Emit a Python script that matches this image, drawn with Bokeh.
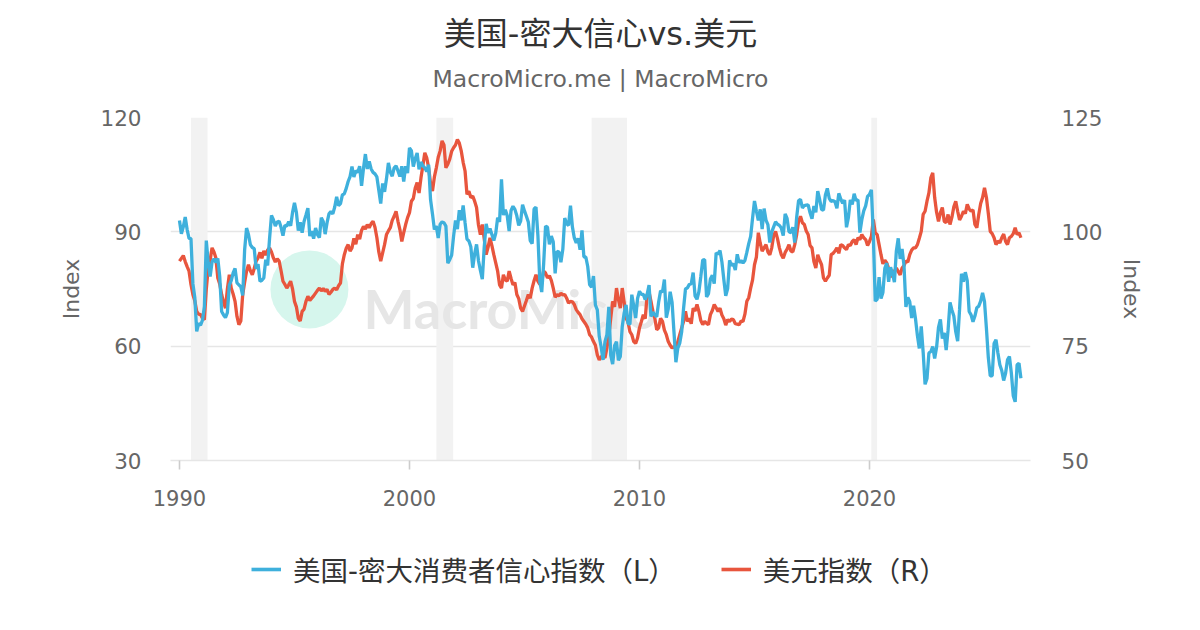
import numpy as np
from bokeh.plotting import figure
from bokeh.layouts import column
from bokeh.models import (Range1d, LinearAxis, FixedTicker, BoxAnnotation,
                          Legend, LegendItem)
from bokeh.core.properties import value
from bokeh.embed import file_html
from bokeh.resources import INLINE

# ---------------- data (monthly, starting Jan 1990) ----------------
START_YEAR = 1990

# University of Michigan consumer sentiment (left axis)
sentiment = [
    93.0, 89.5, 91.3, 93.9, 90.6, 88.3, 88.2, 76.4, 72.8, 63.9, 66.0, 65.5,
    66.8, 70.4, 87.7, 81.8, 78.3, 82.1, 82.9, 82.0, 83.0, 78.3, 69.1, 68.2,
    67.5, 68.8, 76.0, 77.2, 79.2, 80.4, 76.6, 76.1, 75.6, 73.3, 85.3, 91.0,
    89.3, 86.6, 85.9, 85.6, 80.3, 81.5, 77.0, 77.3, 77.9, 82.7, 81.2, 88.2,
    94.3, 93.2, 91.5, 92.6, 92.8, 91.2, 89.0, 91.7, 91.5, 92.7, 91.6, 95.1,
    97.6, 95.1, 90.3, 92.5, 89.8, 92.7, 94.4, 96.2, 88.9, 90.2, 88.2, 91.0,
    89.3, 88.5, 93.7, 92.7, 89.4, 92.4, 94.7, 95.3, 94.7, 96.5, 99.2, 96.9,
    97.4, 99.7, 100.0, 101.4, 103.2, 104.5, 107.1, 104.4, 106.0, 105.6, 107.2, 102.1,
    106.6, 110.4, 106.5, 108.5, 106.5, 105.6, 105.2, 104.4, 100.9, 97.4, 102.7, 100.5,
    103.9, 108.1, 105.7, 104.6, 106.8, 107.3, 106.0, 104.5, 107.2, 103.2, 107.2, 105.4,
    112.0, 111.3, 107.1, 109.2, 110.7, 106.4, 108.3, 107.3, 106.8, 105.8, 107.6, 98.4,
    94.7, 90.6, 91.5, 88.4, 92.0, 92.6, 92.4, 91.5, 81.8, 82.7, 83.9, 88.8,
    93.0, 90.7, 95.7, 93.0, 96.9, 92.4, 88.1, 87.6, 86.1, 80.6, 84.2, 86.7,
    82.4, 79.9, 77.6, 86.0, 92.1, 89.7, 90.9, 89.3, 87.7, 89.6, 93.7, 92.6,
    103.8, 94.4, 95.8, 94.2, 90.2, 95.6, 96.7, 95.9, 94.2, 91.7, 92.8, 97.1,
    95.5, 94.1, 92.6, 87.7, 86.9, 96.0, 96.5, 89.1, 76.9, 74.2, 81.6, 91.5,
    91.2, 86.7, 88.9, 87.4, 79.1, 84.9, 84.7, 82.0, 85.4, 93.6, 92.1, 91.7,
    96.9, 91.3, 88.4, 87.1, 88.3, 85.3, 90.4, 83.4, 83.4, 80.9, 76.1, 75.5,
    78.4, 70.8, 69.5, 62.6, 59.8, 56.4, 61.2, 63.0, 70.3, 57.6, 55.3, 60.1,
    61.2, 56.3, 57.3, 65.1, 68.7, 70.8, 66.0, 65.7, 73.5, 70.6, 67.4, 72.5,
    74.4, 73.6, 73.6, 72.2, 73.6, 76.0, 67.8, 68.9, 68.2, 67.7, 71.6, 74.5,
    74.2, 77.5, 67.5, 69.8, 74.3, 71.5, 63.7, 55.8, 59.5, 60.8, 63.7, 69.9,
    75.0, 75.3, 76.2, 76.4, 79.3, 73.2, 72.3, 74.3, 78.3, 82.6, 82.7, 72.9,
    73.8, 77.6, 78.6, 76.4, 84.5, 84.1, 85.1, 82.1, 77.5, 73.2, 75.1, 82.5,
    81.2, 81.6, 80.0, 84.1, 81.9, 82.5, 81.8, 82.5, 84.6, 86.9, 88.8, 93.6,
    98.1, 95.4, 93.0, 95.9, 90.7, 96.1, 93.1, 91.9, 87.2, 90.0, 91.3, 92.6,
    92.0, 91.7, 91.0, 89.0, 94.7, 93.5, 90.0, 89.8, 91.2, 87.2, 93.8, 98.2,
    98.5, 96.3, 96.9, 97.0, 97.1, 95.0, 93.4, 96.8, 95.1, 100.7, 98.5, 95.9,
    95.7, 99.7, 101.4, 98.8, 98.0, 98.2, 97.9, 96.2, 100.1, 98.6, 97.5, 98.3,
    91.2, 93.8, 98.4, 97.2, 100.0, 98.2, 98.4, 89.8, 93.2, 95.5, 96.8, 99.3,
    99.8, 101.0, 89.1, 71.8, 72.3, 78.1, 72.5, 74.1, 80.4, 81.8, 76.9, 80.7,
    79.0, 76.8, 84.9, 88.3, 82.9, 85.5, 81.2, 70.3, 72.8, 71.7, 67.4, 70.6,
    67.2, 62.8, 59.4, 65.2, 58.4, 50.0, 51.5, 58.2, 58.6, 59.9, 56.8, 59.7,
    64.9, 67.0, 62.0, 63.5, 59.0, 64.2, 71.5, 69.5, 67.9, 63.8, 61.3, 69.7,
    79.0, 76.9, 79.4, 77.2, 69.1, 68.2, 66.4, 67.9, 70.1, 70.5, 71.8, 74.0,
    71.7, 64.7, 57.0, 52.2, 52.2, 60.7, 61.7, 58.2, 55.1, 53.6, 51.0, 52.9,
    56.4, 57.3, 53.0, 47.0, 45.4, 55.1, 55.5, 51.6,
]

# US dollar index (right axis)
dollar = [
    93.6, 94.2, 94.8, 93.5, 92.4, 91.4, 88.5, 86.3, 84.9, 82.6, 82.0, 81.9,
    81.1, 80.8, 87.5, 92.1, 93.8, 96.5, 95.6, 94.3, 89.9, 88.6, 86.3, 84.6,
    83.3, 87.5, 90.6, 87.7, 86.4, 84.8, 81.5, 79.7, 80.5, 86.3, 89.0, 91.4,
    92.8, 91.5, 90.6, 92.0, 93.6, 94.3, 95.5, 94.2, 95.8, 94.9, 96.0, 96.5,
    95.6, 94.3, 93.4, 94.1, 93.6, 91.5, 89.2, 88.5, 87.7, 88.4, 89.2, 87.5,
    84.8, 83.6, 81.1, 80.5, 82.6, 83.1, 84.8, 85.9, 85.0, 85.5, 86.0, 86.6,
    87.2, 87.7, 87.1, 87.6, 87.0, 87.4, 86.3, 86.8, 87.4, 87.7, 87.3, 88.2,
    88.8, 93.0, 95.0, 96.4, 97.2, 95.8, 96.5, 98.6, 97.3, 99.4, 98.4, 100.3,
    101.2, 100.6, 101.6, 100.9, 101.8, 102.3, 101.0, 98.7, 95.6, 93.6, 95.4, 97.2,
    99.4, 100.2, 100.9, 102.5, 103.4, 104.5, 102.3, 100.5, 97.9, 99.8, 101.6, 103.1,
    104.2, 106.7, 107.3, 109.6, 110.8, 108.5, 111.8, 114.5, 117.3, 116.2, 114.0, 110.5,
    108.9, 112.0, 114.0, 116.3, 117.7, 119.9, 119.0, 114.0, 114.8, 115.9, 117.6, 118.4,
    119.0, 120.2, 119.4, 117.7, 115.2, 113.3, 108.2, 108.9, 107.5, 107.8, 106.7, 105.3,
    101.5, 99.4, 101.6, 98.5, 95.0, 96.6, 98.7, 97.0, 95.0, 93.2, 91.4, 88.4,
    87.7, 90.6, 89.5, 89.2, 91.4, 89.8, 88.4, 88.9, 86.3, 85.4, 83.3, 82.6,
    83.8, 85.0, 86.3, 85.5, 87.7, 89.3, 90.6, 89.2, 88.5, 89.2, 91.4, 91.0,
    89.9, 90.4, 89.4, 87.7, 85.7, 86.3, 86.0, 86.6, 86.2, 86.3, 85.5, 84.4,
    84.8, 84.7, 84.1, 83.0, 82.4, 81.9, 81.0, 80.4, 79.8, 79.0, 77.5, 77.0,
    76.0, 75.2, 73.1, 72.0, 72.6, 73.1, 72.4, 74.6, 77.2, 81.1, 84.8, 83.6,
    87.7, 85.2, 83.3, 87.7, 84.6, 81.1, 80.3, 78.2, 77.5, 76.0, 75.6, 76.8,
    79.0, 80.4, 81.9, 81.0, 86.3, 86.8, 84.8, 82.5, 81.1, 78.6, 79.0, 81.1,
    80.4, 78.5, 77.5, 76.0, 75.2, 74.6, 74.9, 74.5, 76.0, 77.5, 79.0, 80.4,
    82.6, 80.4, 81.1, 79.9, 83.3, 82.7, 84.1, 82.6, 80.6, 79.7, 80.4, 80.0,
    79.7, 81.9, 82.8, 84.1, 83.4, 82.6, 83.3, 81.8, 81.0, 79.6, 80.8, 80.4,
    80.9, 80.8, 79.9, 79.8, 79.7, 80.5, 80.4, 82.0, 84.8, 85.6, 87.7, 89.5,
    92.8, 94.5, 99.8, 97.5, 95.8, 96.5, 97.2, 95.6, 95.0, 96.5, 99.2, 100.1,
    98.5, 96.5, 95.0, 94.2, 95.5, 96.2, 97.2, 95.8, 95.6, 97.2, 99.4, 102.3,
    103.4, 102.0, 101.6, 100.2, 99.4, 97.0, 96.5, 93.5, 92.1, 95.0, 93.8, 92.8,
    89.9, 89.2, 89.9, 90.5, 95.0, 95.3, 95.8, 96.5, 95.3, 97.2, 97.0, 96.5,
    96.1, 97.2, 97.0, 97.9, 98.3, 97.2, 98.7, 98.3, 99.4, 98.7, 98.3, 97.0,
    97.9, 99.0, 102.7, 99.8, 99.4, 97.2, 95.0, 93.0, 93.8, 93.2, 92.0, 90.3,
    90.3, 91.4, 92.1, 91.3, 90.6, 92.1, 92.6, 93.6, 93.4, 95.0, 96.0, 96.5,
    96.5, 97.2, 98.6, 100.1, 103.8, 104.5, 106.7, 108.5, 111.8, 112.9, 107.5, 104.3,
    102.3, 104.2, 105.3, 102.3, 102.0, 103.8, 101.6, 103.2, 105.5, 106.7, 104.5, 102.6,
    103.4, 104.5, 104.0, 106.0, 105.0, 104.5, 104.8, 101.6, 100.9, 103.8, 106.2, 107.5,
    109.6, 107.5, 104.0, 100.1, 99.6, 98.7, 97.2, 98.0, 97.6, 98.7, 99.5, 97.9,
    97.2, 98.7, 99.0, 99.6, 100.9, 99.4, 99.8, 98.7,
]

recession_start = [1990.50, 2001.17, 2007.92, 2020.08]
recession_end = [1991.22, 2001.90, 2009.46, 2020.33]

x_ticks = [1990, 2000, 2010, 2020]
left_ticks = [30, 60, 90, 120]
right_ticks = [50, 75, 100, 125]

series_names = ["美国-密大消费者信心指数（L）", "美元指数（R）"]
title_text = "美国-密大信心vs.美元"
subtitle_text = "MacroMicro.me | MacroMicro"
axis_title = "Index"

# ---------------- styling ----------------
BLUE = "#3EB0DC"
RED = "#E8553D"
FONT = "'DejaVu Sans', 'Noto Sans CJK SC', sans-serif"
GRID = "#e6e6e6"
TICK_COLOR = "#666666"

W = 1200
FRAME_W, FRAME_H = 860, 343
TOP_H, LEG_H = 100, 100


def blank_figure(height, xr, yr):
    f = figure(width=W, height=height, x_range=xr, y_range=yr,
               output_backend="svg", toolbar_location=None,
               x_axis_location=None, y_axis_location=None,
               min_border_left=170, min_border_right=170,
               min_border_top=0, min_border_bottom=0,
               outline_line_color=None,
               background_fill_color="white", border_fill_color="white")
    f.xgrid.visible = False
    f.ygrid.visible = False
    return f


x = START_YEAR + np.arange(len(sentiment)) / 12.0

# ---------------- header: title and subtitle ----------------
head = blank_figure(TOP_H, Range1d(0, FRAME_W), Range1d(TOP_H, 0))
head.text([FRAME_W / 2], [33], text=[title_text], text_font=value(FONT),
          text_font_size="32px", text_color="#333333",
          text_align="center", text_baseline="middle")
head.text([FRAME_W / 2], [78], text=[subtitle_text], text_font=value(FONT),
          text_font_size="23.5px", text_color="#666666",
          text_align="center", text_baseline="middle")

# ---------------- main chart ----------------
p = figure(frame_width=FRAME_W, frame_height=FRAME_H,
           x_range=Range1d(1989.61, 2027.0), y_range=Range1d(30, 120),
           output_backend="svg", toolbar_location=None,
           min_border_left=170, min_border_right=170,
           min_border_top=17, min_border_bottom=70,
           background_fill_color="white", border_fill_color="white",
           outline_line_color=None)
p.extra_y_ranges = {"r": Range1d(50, 125)}

for s, e in zip(recession_start, recession_end):
    p.add_layout(BoxAnnotation(left=s, right=e, fill_color="#f2f2f2",
                               fill_alpha=1.0, line_color=None, level="underlay"))

# watermark
p.scatter([1995.65], [74.9], marker="circle", size=78,
          fill_color="#d6f6ed", line_color=None)
p.text([1998.0], [69.9], text=["MacroMicro"], text_font=value("Lato"),
       text_font_style="bold", text_font_size="54px", text_color="#e6e6e6",
       text_baseline="alphabetic", text_align="left")

p.line(x, dollar, color=RED, line_width=3.3, y_range_name="r")
p.line(x, sentiment, color=BLUE, line_width=3.3)

p.xgrid.visible = False
p.ygrid.ticker = FixedTicker(ticks=left_ticks)
p.ygrid.grid_line_color = GRID
p.ygrid.grid_line_width = 1.6

ya = p.yaxis[0]
ya.ticker = FixedTicker(ticks=left_ticks)
ya.axis_line_color = None
ya.major_tick_line_color = None
ya.minor_tick_line_color = None
ya.major_label_text_font = FONT
ya.major_label_text_font_size = "21.5px"
ya.major_label_text_color = TICK_COLOR
ya.major_label_standoff = 23
ya.axis_label = axis_title
ya.axis_label_text_font = FONT
ya.axis_label_text_font_size = "22px"
ya.axis_label_text_font_style = "normal"
ya.axis_label_text_color = TICK_COLOR
ya.axis_label_standoff = 13

ra = LinearAxis(y_range_name="r", ticker=FixedTicker(ticks=right_ticks))
ra.axis_line_color = None
ra.major_tick_line_color = None
ra.minor_tick_line_color = None
ra.major_label_text_font = FONT
ra.major_label_text_font_size = "21.5px"
ra.major_label_text_color = TICK_COLOR
ra.major_label_standoff = 25
ra.axis_label = axis_title
ra.axis_label_text_font = FONT
ra.axis_label_text_font_size = "22px"
ra.axis_label_text_font_style = "normal"
ra.axis_label_text_color = TICK_COLOR
ra.axis_label_standoff = 13
p.add_layout(ra, "right")

xa = p.xaxis[0]
xa.ticker = FixedTicker(ticks=x_ticks)
xa.axis_line_color = GRID
xa.axis_line_width = 1.6
xa.major_tick_line_color = "#cccccc"
xa.major_tick_line_width = 1.6
xa.major_tick_out = 9
xa.major_tick_in = 0
xa.minor_tick_line_color = None
xa.major_label_text_font = FONT
xa.major_label_text_font_size = "21px"
xa.major_label_text_color = TICK_COLOR
xa.major_label_standoff = 20

# ---------------- legend strip ----------------
# The series are drawn here only to feed the legend; the range keeps them off-screen.
leg = blank_figure(LEG_H, Range1d(0, 1), Range1d(0, 1))
lb = leg.line(x, sentiment, color=BLUE, line_width=3.6)
lr = leg.line(x, dollar, color=RED, line_width=3.6)
legend = Legend(items=[LegendItem(label=series_names[0], renderers=[lb]),
                       LegendItem(label=series_names[1], renderers=[lr])],
                orientation="horizontal", location=(81, 41),
                label_text_font=FONT, label_text_font_size="27.5px",
                label_text_color="#333333", glyph_width=30, glyph_height=28,
                label_height=28, label_standoff=12, spacing=45,
                border_line_color=None, background_fill_alpha=0,
                padding=0, margin=0)
leg.add_layout(legend, "center")

layout = column(head, p, leg, spacing=0)
open("out.html", "w").write(file_html(layout, INLINE))
